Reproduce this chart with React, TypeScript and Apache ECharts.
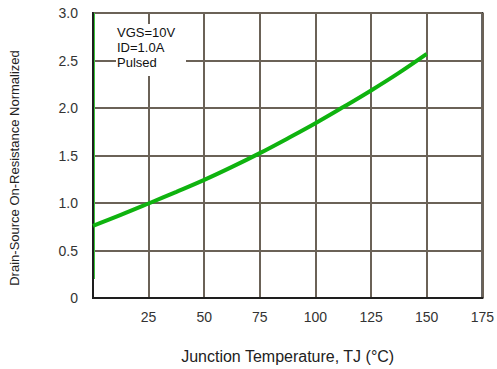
import React, { useEffect, useRef } from "react";
import * as echarts from "echarts";

const temps = [0, 12.5, 25, 37.5, 50, 62.5, 75, 87.5, 100, 112.5, 125, 137.5, 150];
const rdsNorm = [0.76, 0.875, 0.995, 1.117, 1.243, 1.38, 1.525, 1.68, 1.84, 2.01, 2.185, 2.37, 2.57];
const conditions = ["VGS=10V", "ID=1.0A", "Pulsed"];
const xTitle = "Junction Temperature, TJ (°C)";
const yTitle = "Drain-Source On-Resistance Normalized";

export default function App() {
  const ref = useRef<HTMLDivElement>(null);
  useEffect(() => {
    document.body.style.margin = "0";
    if (!ref.current) return;
    const chart = echarts.init(ref.current, null, { renderer: "svg" });
    const font = "Liberation Sans, Arial, sans-serif";
    chart.setOption({
      animation: false,
      backgroundColor: "#ffffff",
      grid: {
        left: 93,
        right: 6,
        top: 13,
        bottom: 70,
        show: true,
        borderColor: "#1e1e1e",
        borderWidth: 2,
        backgroundColor: "transparent",
      },
      xAxis: {
        type: "value",
        min: 0,
        max: 175,
        interval: 25,
        name: xTitle,
        nameLocation: "middle",
        nameGap: 50,
        nameTextStyle: { fontSize: 16, color: "#222", fontFamily: font },
        axisLine: { show: true, lineStyle: { color: "#1e1e1e", width: 2 } },
        axisTick: { show: false },
        axisLabel: {
          fontSize: 14,
          color: "#333",
          fontFamily: font,
          margin: 12,
          formatter: (v: number) => (v === 0 ? "" : String(v)),
        },
        splitLine: { show: true, lineStyle: { color: "#6b6257", width: 2 } },
      },
      yAxis: {
        type: "value",
        min: 0,
        max: 3,
        interval: 0.5,
        axisLine: { show: true, lineStyle: { color: "#1e1e1e", width: 2 } },
        axisTick: { show: false },
        axisLabel: {
          fontSize: 14,
          color: "#333",
          fontFamily: font,
          margin: 15,
          formatter: (v: number) => (v === 0 ? "0" : v.toFixed(1)),
        },
        splitLine: { show: true, lineStyle: { color: "#6b6257", width: 2 } },
      },
      graphic: [
        {
          type: "rect",
          left: 116,
          top: 24,
          shape: { width: 70, height: 52 },
          style: { fill: "#ffffff" },
          z: 10,
        },
        ...conditions.map((t, i) => ({
          type: "text",
          left: 117,
          top: 26 + i * 15,
          z: 11,
          style: { text: t, fontSize: 13, fill: "#111", fontFamily: font },
        })),
        {
          type: "text",
          x: 14,
          y: 168,
          rotation: Math.PI / 2,
          z: 11,
          style: {
            text: yTitle,
            fontSize: 13,
            fill: "#222",
            fontFamily: font,
            align: "center",
            verticalAlign: "middle",
          },
        },
      ],
      series: [
        {
          type: "line",
          data: temps.map((t, i) => [t, rdsNorm[i]]),
          smooth: 0.4,
          showSymbol: false,
          lineStyle: { color: "#0fb30f", width: 4 },
          z: 5,
          markLine: {
            silent: true,
            symbol: "none",
            label: { show: false },
            emphasis: { disabled: true },
            lineStyle: { color: "#3cc43c", width: 1, type: "solid" },
            data: [[{ coord: [0.5, 0.2] }, { coord: [0.5, 3] }]],
          },
        },
      ],
    });
    return () => chart.dispose();
  }, []);
  return <div ref={ref} style={{ width: 497, height: 369 }} />;
}
